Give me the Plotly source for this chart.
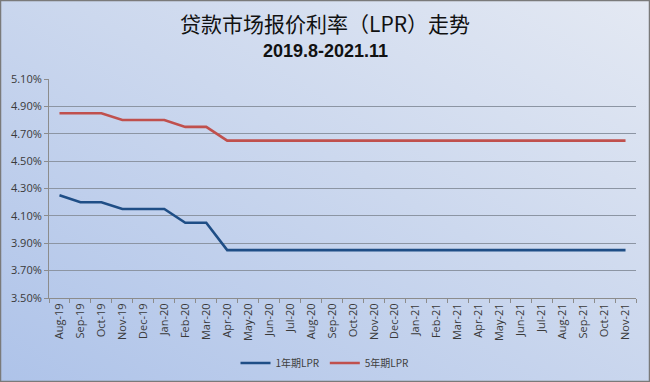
import base64
import plotly.graph_objects as go

months = ["Aug-19", "Sep-19", "Oct-19", "Nov-19", "Dec-19", "Jan-20", "Feb-20", "Mar-20",
          "Apr-20", "May-20", "Jun-20", "Jul-20", "Aug-20", "Sep-20", "Oct-20", "Nov-20",
          "Dec-20", "Jan-21", "Feb-21", "Mar-21", "Apr-21", "May-21", "Jun-21", "Jul-21",
          "Aug-21", "Sep-21", "Oct-21", "Nov-21"]
lpr_1y = [4.25, 4.20, 4.20, 4.15, 4.15, 4.15, 4.05, 4.05,
          3.85, 3.85, 3.85, 3.85, 3.85, 3.85, 3.85, 3.85,
          3.85, 3.85, 3.85, 3.85, 3.85, 3.85, 3.85, 3.85,
          3.85, 3.85, 3.85, 3.85]
lpr_5y = [4.85, 4.85, 4.85, 4.80, 4.80, 4.80, 4.75, 4.75,
          4.65, 4.65, 4.65, 4.65, 4.65, 4.65, 4.65, 4.65,
          4.65, 4.65, 4.65, 4.65, 4.65, 4.65, 4.65, 4.65,
          4.65, 4.65, 4.65, 4.65]
y_ticks = [3.5, 3.7, 3.9, 4.1, 4.3, 4.5, 4.7, 4.9, 5.1]
y_tick_text = ["3.50%", "3.70%", "3.90%", "4.10%", "4.30%", "4.50%", "4.70%", "4.90%", "5.10%"]

W, H = 650, 382
ML, MR, MT, MB = 49, 14, 79, 84
PW, PH = W - ML - MR, H - MT - MB

svg = (
    "<svg xmlns='http://www.w3.org/2000/svg' width='650' height='382'>"
    "<defs><linearGradient id='g' x1='0' y1='1' x2='1' y2='0'>"
    "<stop offset='0' stop-color='#aec3e9'/>"
    "<stop offset='0.55' stop-color='#ccd8ee'/>"
    "<stop offset='1' stop-color='#e4e9f3'/>"
    "</linearGradient></defs>"
    "<rect x='0' y='0' width='650' height='382' fill='url(#g)'/>"
    "<rect x='0.5' y='0.5' width='649' height='381' fill='none' stroke='#7a7a7a' stroke-width='1.5'/>"
    "</svg>"
)
bg_src = "data:image/svg+xml;base64," + base64.b64encode(svg.encode()).decode()

fig = go.Figure()
fig.add_trace(go.Scatter(x=months, y=lpr_1y, mode="lines", name="1年期LPR",
                         line=dict(color="#1f4e86", width=2.6)))
fig.add_trace(go.Scatter(x=months, y=lpr_5y, mode="lines", name="5年期LPR",
                         line=dict(color="#c0504d", width=2.6)))

title_x = 0.5 + (W / 2 - ML - PW / 2) / PW

def py(pix):
    """convert a pixel row from top of page to paper y coordinate"""
    return 1 + (MT - pix) / PH

fig.update_layout(
    width=W, height=H,
    margin=dict(l=ML, r=MR, t=MT, b=MB),
    paper_bgcolor="#cfd9ee",
    plot_bgcolor="rgba(0,0,0,0)",
    font=dict(family="Noto Sans CJK SC, Open Sans, sans-serif", color="#404040"),
    images=[dict(source=bg_src, xref="paper", yref="paper",
                 x=-ML / PW, y=1 + MT / PH, sizex=W / PW, sizey=H / PH,
                 xanchor="left", yanchor="top", sizing="stretch", layer="below")],
    showlegend=True,
    legend=dict(orientation="h", xref="container", yref="container",
                x=0.5, xanchor="center", y=(H - 363) / H, yanchor="middle",
                font=dict(size=10, color="#404040", family="Noto Sans CJK SC, sans-serif"),
                bgcolor="rgba(0,0,0,0)", itemwidth=30, tracegroupgap=0),
    annotations=[
        dict(text="贷款市场报价利率（LPR）走势", xref="paper", yref="paper",
             x=title_x, y=py(23), xanchor="center", yanchor="middle",
             showarrow=False, font=dict(size=21, color="#111111",
                                        family="Noto Sans CJK SC, sans-serif")),
        dict(text="<b>2019.8-2021.11</b>", xref="paper", yref="paper",
             x=title_x, y=py(51), xanchor="center", yanchor="middle",
             showarrow=False, font=dict(size=18, color="#111111",
                                        family="Liberation Sans, Open Sans, sans-serif")),
    ],
    xaxis=dict(
        type="category", tickangle=-90, tickson="boundaries",
        ticks="outside", ticklen=4, tickcolor="#8c8c8c",
        showline=True, linecolor="#8c8c8c", linewidth=1,
        showgrid=False, automargin=False,
        tickfont=dict(size=11, color="#3a3a3a", family="Open Sans, sans-serif"),
        range=[-0.5, len(months) - 0.5],
    ),
    yaxis=dict(
        range=[3.5, 5.1], tickvals=y_ticks, ticktext=y_tick_text,
        ticks="outside", ticklen=4, tickcolor="#8c8c8c",
        showline=True, linecolor="#8c8c8c", linewidth=1,
        showgrid=True, gridcolor="#8c95a3", gridwidth=1,
        zeroline=False, automargin=False,
        tickfont=dict(size=11, color="#3a3a3a", family="Open Sans, sans-serif"),
    ),
)

fig.write_html("out.html", config={"displayModeBar": False},
               post_script="document.body.style.margin='0';document.body.style.padding='0';")
